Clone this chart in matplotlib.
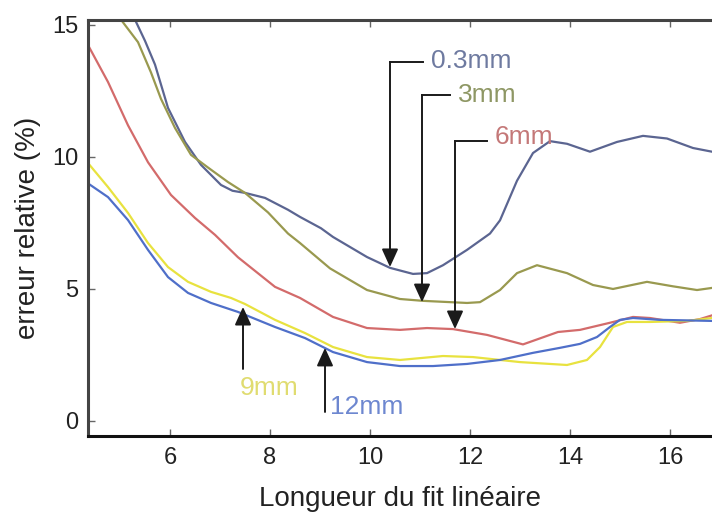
import matplotlib
matplotlib.use("Agg")
import matplotlib.pyplot as plt

plt.rcParams['font.family'] = ['Liberation Sans', 'DejaVu Sans']

# curves (x = fit length, y = relative error %)
x_03 = [5.30, 5.50, 5.70, 5.96, 6.30, 6.62, 7.02, 7.25, 7.50, 7.90, 8.36, 8.60, 9.02, 9.26,
        9.94, 10.40, 10.86, 11.14, 11.46, 11.94, 12.40, 12.60, 12.94, 13.26, 13.60, 13.94,
        14.40, 14.94, 15.46, 15.94, 16.46, 16.84]
y_03 = [15.2, 14.4, 13.5, 11.86, 10.57, 9.7, 8.94, 8.72, 8.64, 8.45, 8.0, 7.73, 7.3, 6.97,
        6.21, 5.8, 5.57, 5.6, 5.9, 6.48, 7.1, 7.6, 9.1, 10.15, 10.6, 10.5,
        10.2, 10.57, 10.8, 10.7, 10.34, 10.2]

x_3 = [5.02, 5.36, 5.62, 5.82, 6.10, 6.42, 6.76, 7.16, 7.50, 7.96, 8.36, 8.60, 9.20, 9.94,
       10.60, 11.06, 11.94, 12.20, 12.60, 12.94, 13.34, 13.94, 14.46, 14.86, 15.54, 16.06,
       16.54, 16.84]
y_3 = [15.2, 14.35, 13.2, 12.2, 11.1, 10.08, 9.6, 9.05, 8.64, 7.9, 7.1, 6.74, 5.78, 4.96,
       4.62, 4.55, 4.47, 4.5, 4.96, 5.6, 5.9, 5.6, 5.15, 5.0, 5.27, 5.1,
       4.96, 5.04]

x_6 = [4.36, 4.76, 5.16, 5.56, 6.02, 6.50, 6.90, 7.36, 8.10, 8.60, 9.26, 9.94, 10.60, 11.14,
       11.66, 12.34, 13.06, 13.76, 14.20, 14.80, 15.26, 15.60, 16.20, 16.60, 16.84]
y_6 = [14.24, 12.84, 11.2, 9.8, 8.56, 7.69, 7.05, 6.2, 5.08, 4.66, 3.94, 3.52, 3.45, 3.52,
       3.48, 3.26, 2.9, 3.37, 3.45, 3.72, 3.94, 3.9, 3.72, 3.86, 4.0]

x_9 = [4.36, 4.76, 5.16, 5.56, 5.96, 6.36, 6.82, 7.22, 7.50, 8.10, 8.70, 9.26, 9.94, 10.60,
       11.46, 12.06, 13.00, 13.94, 14.34, 14.60, 14.86, 15.14, 15.60, 16.34, 16.84]
y_9 = [9.77, 8.86, 7.88, 6.74, 5.83, 5.27, 4.89, 4.66, 4.43, 3.83, 3.33, 2.8, 2.42, 2.31,
       2.46, 2.42, 2.23, 2.12, 2.31, 2.8, 3.56, 3.75, 3.75, 3.79, 3.9]

x_12 = [4.36, 4.76, 5.16, 5.56, 5.96, 6.36, 6.82, 7.36, 8.10, 8.70, 9.26, 9.94, 10.60, 11.26,
        11.94, 12.60, 13.26, 13.80, 14.20, 14.54, 14.80, 15.00, 15.26, 15.80, 16.84]
y_12 = [9.0, 8.48, 7.61, 6.48, 5.45, 4.85, 4.47, 4.13, 3.56, 3.14, 2.61, 2.23, 2.08, 2.08,
        2.16, 2.31, 2.58, 2.77, 2.92, 3.18, 3.56, 3.83, 3.9, 3.83, 3.79]

labels = ['0.3mm', '3mm', '6mm', '9mm', '12mm']
line_colors = ['#5b6591', '#99994f', '#d36b6b', '#e8e23f', '#4f6fc9']
text_colors = ['#6e7aa0', '#8e9764', '#c47878', '#e0dc70', '#6d87d0']

xticks = [6, 8, 10, 12, 14, 16]
yticks = [0, 5, 10, 15]

# arrow x, arrow tip y, arrow tail y, text x, text y
arrows = [
    (10.40, 5.83, 13.60, 11.22, 13.65),
    (11.04, 4.50, 12.35, 11.76, 12.35),
    (11.70, 3.48, 10.60, 12.50, 10.75),
    (7.46, 4.32, 1.97, 7.40, 1.25),
    (9.10, 2.77, 0.34, 9.20, 0.53),
]

fig = plt.figure(figsize=(7.12, 5.15), dpi=100)
ax = fig.add_axes([0.1236, 0.1534, 0.8764, 0.8078])

series = [(x_03, y_03), (x_3, y_3), (x_6, y_6), (x_9, y_9), (x_12, y_12)]
for (xs, ys), c in zip(series, line_colors):
    ax.plot(xs, ys, color=c, lw=1.6, solid_joinstyle='round')

for i, (ax_x, tip, tail, tx, ty) in enumerate(arrows):
    ax.annotate('', xy=(ax_x, tip), xytext=(ax_x, tail),
                arrowprops=dict(arrowstyle='-|>,head_length=0.55,head_width=0.25',
                                color='#1a1a1a', lw=1.4, mutation_scale=20,
                                shrinkA=0, shrinkB=0))
    if i < 3:
        # bracket: horizontal piece from the top of the arrow to the label
        ax.plot([ax_x, tx - 0.16], [tail, tail], color='#1a1a1a', lw=1.4)
    ax.text(tx, ty, labels[i], color=text_colors[i], fontsize=19, va='center', ha='left')

ax.set_xlim(4.36, 16.84)
ax.set_ylim(-0.57, 15.19)
ax.set_xticks(xticks)
ax.set_yticks(yticks)
ax.tick_params(direction='in', length=5, width=1, colors='#666666',
               labelcolor='#222222', labelsize=17, top=True)
ax.tick_params(axis='x', pad=8)
ax.tick_params(axis='y', pad=7)

ax.spines['right'].set_visible(False)
for s in ['left', 'top']:
    ax.spines[s].set_color('#444444')
    ax.spines[s].set_linewidth(2.2)
ax.spines['bottom'].set_color('#111111')
ax.spines['bottom'].set_linewidth(2.2)

ax.set_xlabel('Longueur du fit linéaire', fontsize=20, color='#222222', labelpad=12)
ax.set_ylabel('erreur relative (%)', fontsize=20, color='#222222', labelpad=8)

fig.savefig('out.png', dpi=100)
